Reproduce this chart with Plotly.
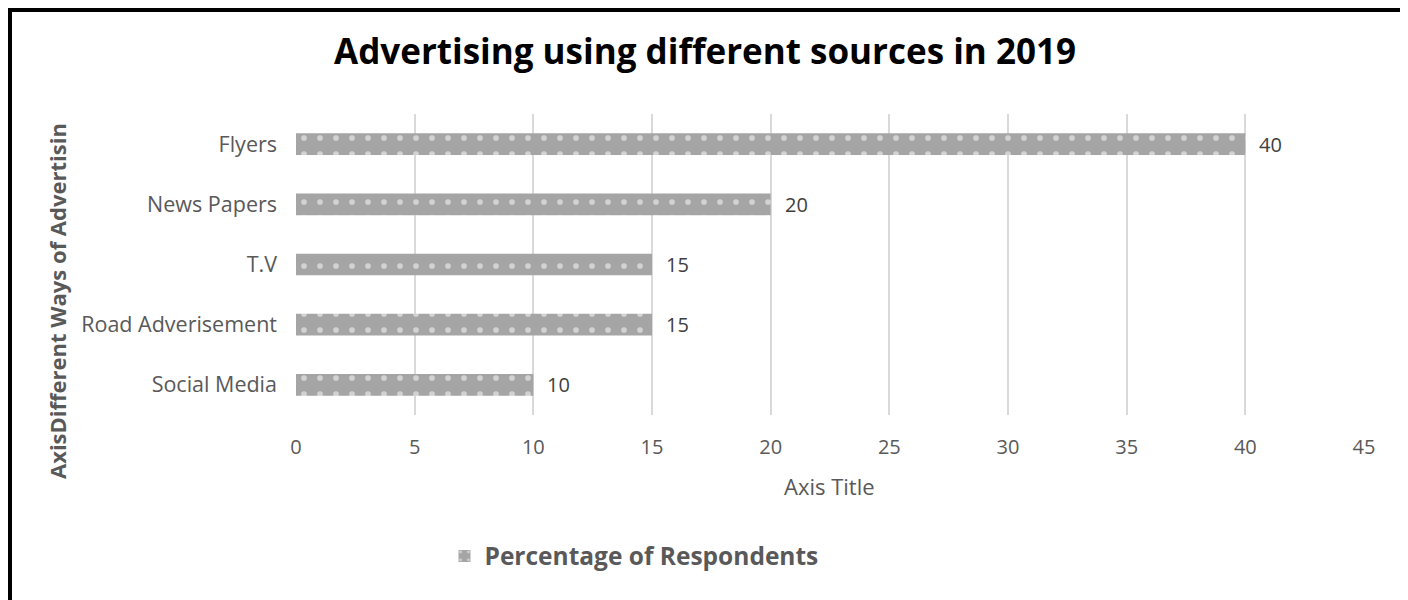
import plotly.graph_objects as go

categories = ["Social Media", "Road Adverisement", "T.V", "News Papers", "Flyers"]
values = [10, 15, 15, 20, 40]
series_name = "Percentage of Respondents"
x_ticks = [0, 5, 10, 15, 20, 25, 30, 35, 40, 45]

FONT = "Open Sans"
OFF = 8  # page body margin
W, H = 1408, 600
L = 296 - OFF
T = 114 - OFF
PR = 1364 - OFF
PB = 415 - OFF
R = W - PR
B = H - PB
pw, ph = PR - L, PB - T

def px_x(p):
    return (p - OFF - L) / pw

def px_y(p):
    return (PB - (p - OFF)) / ph

fig = go.Figure()
fig.add_trace(go.Bar(
    y=categories, x=values, orientation="h", name=series_name,
    marker=dict(color="#a5a5a5", line=dict(width=0),
                pattern=dict(shape=".", fgcolor="white", bgcolor="#a5a5a5",
                             size=16, solidity=0.1)),
    width=0.36, showlegend=True,
))

for c, v in zip(categories, values):
    fig.add_annotation(x=v, y=c, xref="x", yref="y", text=str(v),
                       showarrow=False, xanchor="left", xshift=12,
                       font=dict(family=FONT, size=20, color="#404040"))

fig.update_layout(
    width=W, height=H,
    margin=dict(l=L, r=R, t=T, b=B),
    paper_bgcolor="white", plot_bgcolor="white",
    font=dict(family=FONT, color="#595959"),
    title=dict(text="<b>Advertising using different sources in 2019</b>",
               x=px_x(705), xref="paper", xanchor="center",
               y=1 - (52 - OFF) / H, yanchor="middle",
               font=dict(family=FONT, size=35, color="black")),
    xaxis=dict(range=[0, 45], tickvals=x_ticks, showgrid=True,
               gridcolor="#d9d9d9", gridwidth=1.5, zeroline=False,
               showline=False, ticks="", tickfont=dict(size=20, color="#595959"),
               ticklabelstandoff=18),
    yaxis=dict(showgrid=False, showline=False, ticks="", zeroline=False,
               tickfont=dict(size=21.5, color="#595959"), ticklabelstandoff=18),
    showlegend=True,
    legend=dict(orientation="h", x=px_x(634), xanchor="center",
                y=px_y(556), yanchor="middle",
                font=dict(family=FONT, size=24.5, color="#595959", weight="bold")),
    bargap=0.63,
)

fig.add_annotation(text="Axis Title", xref="paper", yref="paper",
                   x=px_x(829), y=px_y(486), xanchor="center", yanchor="middle",
                   showarrow=False, font=dict(family=FONT, size=22, color="#595959"))

fig.add_annotation(text="<b>AxisDifferent Ways of Advertisin</b>",
                   xref="paper", yref="paper", x=px_x(57), y=px_y(301),
                   xanchor="center", yanchor="middle",
                   textangle=-90, showarrow=False,
                   font=dict(family=FONT, size=22, color="#595959"))

fig.add_shape(type="rect", xref="paper", yref="paper",
              x0=px_x(10), x1=px_x(1402), y0=px_y(10), y1=px_y(660),
              line=dict(color="black", width=4), layer="above")

fig.write_html("out.html")
